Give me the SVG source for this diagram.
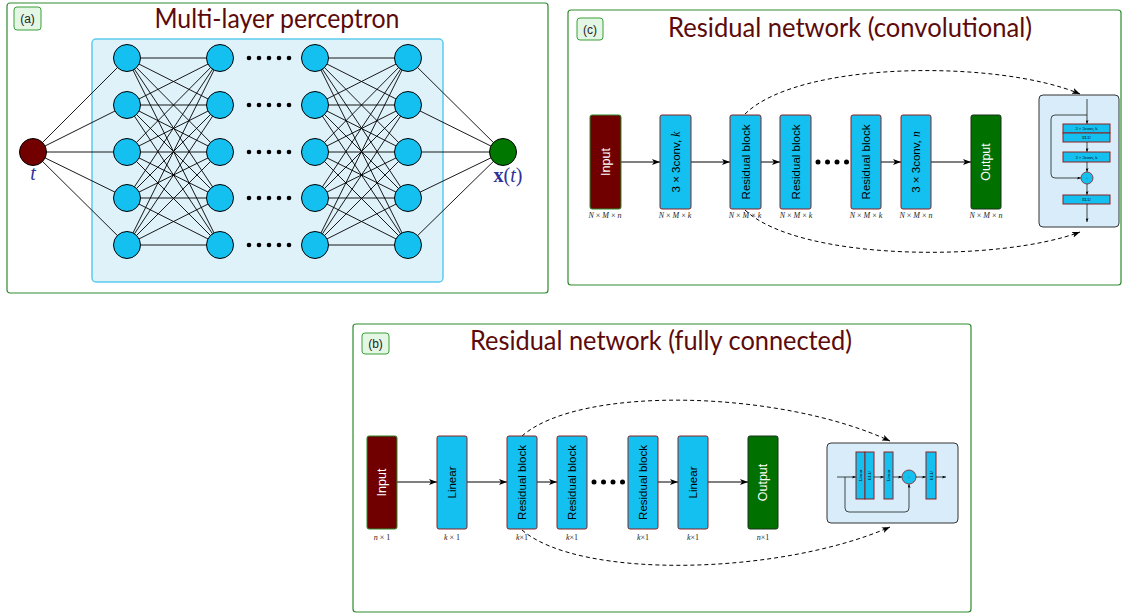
<svg xmlns="http://www.w3.org/2000/svg" width="1124" height="613" viewBox="0 0 1124 613">
<defs>
<marker id="ah" markerWidth="8" markerHeight="6" refX="8" refY="3" orient="auto" markerUnits="userSpaceOnUse"><path d="M0,0 L8,3 L0,6 L2,3 z" fill="#000"/></marker>
<marker id="ahs" markerWidth="4" markerHeight="3" refX="4" refY="1.5" orient="auto" markerUnits="userSpaceOnUse"><path d="M0,0 L4,1.5 L0,3 L1,1.5 z" fill="#000"/></marker>
<style>
.panel{fill:#fff;stroke:#2e8b2e;stroke-width:1.2}
.tag{fill:#e4f6e4;stroke:#3aa03a;stroke-width:1}
.tagt{font-family:"Liberation Sans",sans-serif;font-size:12px;fill:#222;text-anchor:middle}
.title{font-family:Lato,"Liberation Sans",sans-serif;font-size:26px;fill:#5c0a0a;text-anchor:middle}
.neuron{fill:#14c0f0;stroke:#000;stroke-width:1}
.mesh{fill:none;stroke:#000;stroke-width:0.9}
.blk{fill:#14c0f0;stroke:#8b2020;stroke-width:1}
.inp{fill:#700000;stroke:#2a8a2a;stroke-width:1}
.out{fill:#007000;stroke:#1a301a;stroke-width:1}
.bt{font-family:"Liberation Sans",sans-serif;font-size:11.5px;fill:#000;text-anchor:middle;dominant-baseline:central}
.wt{fill:#fff;font-size:12.5px}
.dim{font-family:"Liberation Serif",serif;font-style:italic;font-size:8px;fill:#222;text-anchor:middle}
.up{font-style:normal}
.arr{fill:none;stroke:#000;stroke-width:1;marker-end:url(#ah)}
.dash{fill:none;stroke:#000;stroke-width:1;stroke-dasharray:4 3;marker-end:url(#ah)}
.inset{fill:#d8edf9;stroke:#333;stroke-width:1}
.iarr{fill:none;stroke:#000;stroke-width:0.7;marker-end:url(#ahs)}
.tiny{font-family:"Liberation Serif",serif;font-size:4.5px;fill:#000;text-anchor:middle;dominant-baseline:central}
.dot{fill:#000}
</style>
</defs>

<g id="panel-a">
<rect class="panel" x="7" y="3" width="541" height="290" rx="3"/>
<rect class="tag" x="14" y="7" width="27" height="23" rx="3"/>
<text class="tagt" x="27.5" y="23">(a)</text>
<text class="title" x="277" y="28" textLength="245" lengthAdjust="spacingAndGlyphs">Multi-layer perceptron</text>
<rect x="92" y="39" width="351" height="243" rx="4" fill="#dff2fa" stroke="#5ccbed" stroke-width="1.5"/>
</g>
<g id="panel-c">
<rect class="panel" x="568" y="10" width="553" height="275" rx="3"/>
<rect class="tag" x="577" y="18" width="26" height="22" rx="3"/>
<text class="tagt" x="590" y="33.5">(c)</text>
<text class="title" x="850" y="37" textLength="364" lengthAdjust="spacingAndGlyphs">Residual network (convolutional)</text>
</g>
<g id="panel-b">
<rect class="panel" x="353" y="324" width="618" height="288" rx="3"/>
<rect class="tag" x="362" y="333" width="27" height="21" rx="3"/>
<text class="tagt" x="375.5" y="348">(b)</text>
<text class="title" x="661" y="350" textLength="382" lengthAdjust="spacingAndGlyphs">Residual network (fully connected)</text>
</g>

<g id="connectors">
<path class="mesh" d="M33,152L127,58M33,152L127,105M33,152L127,152M33,152L127,198M33,152L127,245"/>
<path class="mesh" d="M127,58L220,58M127,58L220,105M127,58L220,152M127,58L220,198M127,58L220,245M127,105L220,58M127,105L220,105M127,105L220,152M127,105L220,198M127,105L220,245M127,152L220,58M127,152L220,105M127,152L220,152M127,152L220,198M127,152L220,245M127,198L220,58M127,198L220,105M127,198L220,152M127,198L220,198M127,198L220,245M127,245L220,58M127,245L220,105M127,245L220,152M127,245L220,198M127,245L220,245"/>
<path class="mesh" d="M315,58L408,58M315,58L408,105M315,58L408,152M315,58L408,198M315,58L408,245M315,105L408,58M315,105L408,105M315,105L408,152M315,105L408,198M315,105L408,245M315,152L408,58M315,152L408,105M315,152L408,152M315,152L408,198M315,152L408,245M315,198L408,58M315,198L408,105M315,198L408,152M315,198L408,198M315,198L408,245M315,245L408,58M315,245L408,105M315,245L408,152M315,245L408,198M315,245L408,245"/>
<path class="mesh" d="M408,58L503,152M408,105L503,152M408,152L503,152M408,198L503,152M408,245L503,152"/>

<line class="arr" x1="621" y1="162" x2="660" y2="162"/>
<line class="arr" x1="691" y1="162" x2="730" y2="162"/>
<line class="arr" x1="761" y1="162" x2="780" y2="162"/>
<line class="arr" x1="881" y1="162" x2="901" y2="162"/>
<line class="arr" x1="931" y1="162" x2="971" y2="162"/>
<path class="dash" d="M745,114 C800,60 1000,60 1080,94"/>
<path class="dash" d="M745,210 C800,262 1000,262 1080,232"/>

<line class="arr" x1="397" y1="482" x2="437" y2="482"/>
<line class="arr" x1="467" y1="482" x2="507" y2="482"/>
<line class="arr" x1="537" y1="482" x2="557" y2="482"/>
<line class="arr" x1="658" y1="482" x2="678" y2="482"/>
<line class="arr" x1="708" y1="482" x2="748" y2="482"/>
<path class="dash" d="M522,436 C580,385 780,390 890,441"/>
<path class="dash" d="M522,530 C580,580 780,575 890,527"/>
</g>

<g id="node-t">
<circle cx="33" cy="152" r="13.5" fill="#730000" stroke="#000"/>
<text x="33" y="180" font-family="Liberation Serif,serif" font-style="italic" font-size="20" fill="#30309a" text-anchor="middle">t</text>
</g>
<g id="layer-1">
<circle class="neuron" cx="127" cy="58" r="13.5"/><circle class="neuron" cx="127" cy="105" r="13.5"/><circle class="neuron" cx="127" cy="152" r="13.5"/><circle class="neuron" cx="127" cy="198" r="13.5"/><circle class="neuron" cx="127" cy="245" r="13.5"/>
</g>
<g id="layer-2">
<circle class="neuron" cx="220" cy="58" r="13.5"/><circle class="neuron" cx="220" cy="105" r="13.5"/><circle class="neuron" cx="220" cy="152" r="13.5"/><circle class="neuron" cx="220" cy="198" r="13.5"/><circle class="neuron" cx="220" cy="245" r="13.5"/>
</g>
<g id="mlp-dots">
<g class="dot">
<circle cx="249" cy="58" r="2.3"/><circle cx="259" cy="58" r="2.3"/><circle cx="269" cy="58" r="2.3"/><circle cx="279" cy="58" r="2.3"/><circle cx="289" cy="58" r="2.3"/>
<circle cx="249" cy="105" r="2.3"/><circle cx="259" cy="105" r="2.3"/><circle cx="269" cy="105" r="2.3"/><circle cx="279" cy="105" r="2.3"/><circle cx="289" cy="105" r="2.3"/>
<circle cx="249" cy="152" r="2.3"/><circle cx="259" cy="152" r="2.3"/><circle cx="269" cy="152" r="2.3"/><circle cx="279" cy="152" r="2.3"/><circle cx="289" cy="152" r="2.3"/>
<circle cx="249" cy="198" r="2.3"/><circle cx="259" cy="198" r="2.3"/><circle cx="269" cy="198" r="2.3"/><circle cx="279" cy="198" r="2.3"/><circle cx="289" cy="198" r="2.3"/>
<circle cx="249" cy="245" r="2.3"/><circle cx="259" cy="245" r="2.3"/><circle cx="269" cy="245" r="2.3"/><circle cx="279" cy="245" r="2.3"/><circle cx="289" cy="245" r="2.3"/>
</g>
</g>
<g id="layer-3">
<circle class="neuron" cx="315" cy="58" r="13.5"/><circle class="neuron" cx="315" cy="105" r="13.5"/><circle class="neuron" cx="315" cy="152" r="13.5"/><circle class="neuron" cx="315" cy="198" r="13.5"/><circle class="neuron" cx="315" cy="245" r="13.5"/>
</g>
<g id="layer-4">
<circle class="neuron" cx="408" cy="58" r="13.5"/><circle class="neuron" cx="408" cy="105" r="13.5"/><circle class="neuron" cx="408" cy="152" r="13.5"/><circle class="neuron" cx="408" cy="198" r="13.5"/><circle class="neuron" cx="408" cy="245" r="13.5"/>
</g>
<g id="node-xt">
<circle cx="503" cy="152" r="13.5" fill="#007800" stroke="#000"/>
<text x="508" y="182" font-family="Liberation Serif,serif" font-size="20" fill="#30309a" text-anchor="middle"><tspan font-weight="bold">x</tspan>(<tspan font-style="italic">t</tspan>)</text>
</g>

<g id="c-input">
<rect class="inp" x="590" y="115" width="31" height="94" rx="2"/>
<text class="bt wt" transform="translate(605.5,162) rotate(-90)">Input</text>
<text class="dim" x="605" y="218">N <tspan class="up">×</tspan> M <tspan class="up">×</tspan> n</text>
</g>
<g id="c-conv1">
<rect class="blk" x="660" y="115" width="31" height="94" rx="2"/>
<text class="bt" transform="translate(675.5,162) rotate(-90)">3 × 3conv, <tspan font-family="Liberation Serif,serif" font-style="italic">k</tspan></text>
<text class="dim" x="675" y="218">N <tspan class="up">×</tspan> M <tspan class="up">×</tspan> k</text>
</g>
<g id="c-res1">
<rect class="blk" x="730" y="115" width="31" height="94" rx="2"/>
<text class="bt" transform="translate(745.5,162) rotate(-90)">Residual block</text>
<text class="dim" x="745" y="218">N <tspan class="up">×</tspan> M <tspan class="up">×</tspan> k</text>
</g>
<g id="c-res2">
<rect class="blk" x="780" y="115" width="31" height="94" rx="2"/>
<text class="bt" transform="translate(795.5,162) rotate(-90)">Residual block</text>
<text class="dim" x="796" y="218">N <tspan class="up">×</tspan> M <tspan class="up">×</tspan> k</text>
</g>
<g id="c-dots" class="dot">
<circle cx="818" cy="162" r="2.5"/><circle cx="827.5" cy="162" r="2.5"/><circle cx="837" cy="162" r="2.5"/><circle cx="846.5" cy="162" r="2.5"/>
</g>
<g id="c-res3">
<rect class="blk" x="851" y="115" width="30" height="94" rx="2"/>
<text class="bt" transform="translate(866,162) rotate(-90)">Residual block</text>
<text class="dim" x="866" y="218">N <tspan class="up">×</tspan> M <tspan class="up">×</tspan> k</text>
</g>
<g id="c-conv2">
<rect class="blk" x="901" y="115" width="30" height="94" rx="2"/>
<text class="bt" transform="translate(916,162) rotate(-90)">3 × 3conv, <tspan font-family="Liberation Serif,serif" font-style="italic">n</tspan></text>
<text class="dim" x="916" y="218">N <tspan class="up">×</tspan> M <tspan class="up">×</tspan> n</text>
</g>
<g id="c-output">
<rect class="out" x="971" y="115" width="30" height="94" rx="2"/>
<text class="bt wt" transform="translate(986,162) rotate(-90)">Output</text>
<text class="dim" x="986" y="218">N <tspan class="up">×</tspan> M <tspan class="up">×</tspan> n</text>
</g>
<g id="c-inset">
<rect class="inset" x="1039" y="95" width="80" height="132" rx="4"/>
<line class="iarr" x1="1087" y1="99" x2="1087" y2="124"/>
<path class="iarr" d="M1087,115 H1055 Q1051,115 1051,119 V174 Q1051,178 1055,178 H1081"/>
<rect class="blk" x="1063" y="124" width="47" height="9" stroke-width="0.8"/>
<rect class="blk" x="1063" y="133" width="47" height="9" stroke-width="0.8"/>
<text class="tiny" x="1086.5" y="128.5">3 × 3conv, k</text>
<text class="tiny" x="1086.5" y="137.5">ELU</text>
<line class="iarr" x1="1087" y1="142" x2="1087" y2="152"/>
<rect class="blk" x="1063" y="152" width="47" height="10" stroke-width="0.8"/>
<text class="tiny" x="1086.5" y="157">3 × 3conv, k</text>
<line class="iarr" x1="1087" y1="162" x2="1087" y2="172"/>
<circle cx="1087" cy="178" r="6" fill="#14c0f0" stroke="#8b2020" stroke-width="0.8"/>
<text class="tiny" x="1087" y="178" font-size="6">+</text>
<line class="iarr" x1="1087" y1="184" x2="1087" y2="195"/>
<rect class="blk" x="1063" y="195" width="47" height="9" stroke-width="0.8"/>
<text class="tiny" x="1086.5" y="199.5">ELU</text>
<line class="iarr" x1="1087" y1="204" x2="1087" y2="222"/>
</g>

<g id="b-input">
<rect class="inp" x="367" y="436" width="30" height="93" rx="2"/>
<text class="bt wt" transform="translate(382,482.5) rotate(-90)">Input</text>
<text class="dim" x="382" y="540">n <tspan class="up">× 1</tspan></text>
</g>
<g id="b-linear1">
<rect class="blk" x="437" y="436" width="30" height="93" rx="2"/>
<text class="bt" transform="translate(452,482.5) rotate(-90)">Linear</text>
<text class="dim" x="452" y="540">k <tspan class="up">× 1</tspan></text>
</g>
<g id="b-res1">
<rect class="blk" x="507" y="436" width="30" height="93" rx="2"/>
<text class="bt" transform="translate(522,482.5) rotate(-90)">Residual block</text>
<text class="dim" x="522" y="540">k<tspan class="up">×1</tspan></text>
</g>
<g id="b-res2">
<rect class="blk" x="557" y="436" width="30" height="93" rx="2"/>
<text class="bt" transform="translate(572,482.5) rotate(-90)">Residual block</text>
<text class="dim" x="572" y="540">k<tspan class="up">×1</tspan></text>
</g>
<g id="b-dots" class="dot">
<circle cx="594" cy="482" r="2.5"/><circle cx="603.5" cy="482" r="2.5"/><circle cx="613" cy="482" r="2.5"/><circle cx="622.5" cy="482" r="2.5"/>
</g>
<g id="b-res3">
<rect class="blk" x="628" y="436" width="30" height="93" rx="2"/>
<text class="bt" transform="translate(643,482.5) rotate(-90)">Residual block</text>
<text class="dim" x="643" y="540">k<tspan class="up">×1</tspan></text>
</g>
<g id="b-linear2">
<rect class="blk" x="678" y="436" width="30" height="93" rx="2"/>
<text class="bt" transform="translate(693,482.5) rotate(-90)">Linear</text>
<text class="dim" x="693" y="540">k<tspan class="up">×1</tspan></text>
</g>
<g id="b-output">
<rect class="out" x="748" y="436" width="30" height="93" rx="2"/>
<text class="bt wt" transform="translate(763,482.5) rotate(-90)">Output</text>
<text class="dim" x="763" y="540">n<tspan class="up">×1</tspan></text>
</g>
<g id="b-inset">
<rect class="inset" x="827" y="443" width="131" height="80" rx="4"/>
<line class="iarr" x1="837" y1="477" x2="856" y2="477"/>
<path class="iarr" d="M845,477 V508 Q845,512 849,512 H905 Q909,512 909,508 V484"/>
<rect class="blk" x="856" y="452" width="9" height="47" stroke-width="0.8"/>
<rect class="blk" x="865" y="452" width="9" height="47" stroke-width="0.8"/>
<text class="tiny" transform="translate(860.5,475.5) rotate(-90)">Linear</text>
<text class="tiny" transform="translate(869.5,475.5) rotate(-90)">ELU</text>
<line class="iarr" x1="874" y1="477" x2="884" y2="477"/>
<rect class="blk" x="884" y="452" width="9" height="47" stroke-width="0.8"/>
<text class="tiny" transform="translate(888.5,475.5) rotate(-90)">Linear</text>
<line class="iarr" x1="893" y1="477" x2="902" y2="477"/>
<circle cx="909" cy="477" r="7" fill="#14c0f0" stroke="#8b2020" stroke-width="0.8"/>
<text class="tiny" x="909" y="477" font-size="7">+</text>
<line class="iarr" x1="916" y1="477" x2="926" y2="477"/>
<rect class="blk" x="926" y="452" width="10" height="47" stroke-width="0.8"/>
<text class="tiny" transform="translate(931,475.5) rotate(-90)">ELU</text>
<line class="iarr" x1="936" y1="477" x2="946" y2="477"/>
</g>
</svg>
